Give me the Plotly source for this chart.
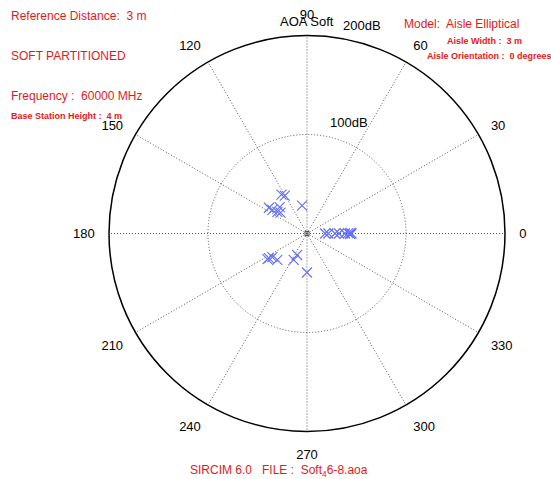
import plotly.graph_objects as go

# AOA data: received power (dB, radial) vs angle of arrival (degrees)
power_db = [47, 44.4, 28.7, 46.4, 42.4, 38.4, 37, 34,
            45.8, 42.4, 40.2, 47.7, 29.9, 23.9, 39.4,
            18.3, 21.6, 28.3, 32.3, 38.3, 41.6, 43.3, 45, 44]
angle_deg = [123.2, 120.3, 100, 145.9, 145.6, 136, 144, 141.8,
             213, 214.4, 221.7, 213, 243.3, 245.3, 270,
             0, 0, 0, 0, 0, 0.5, -0.5, 0, 0.8]
angle_ticks = list(range(0, 360, 30))
angle_ticklabels = [str(a) for a in angle_ticks]

W, H = 551, 479
RED = "rgb(230,25,25)"
FONT = "Liberation Sans, Arial, sans-serif"

fig = go.Figure()
fig.add_trace(go.Scatterpolar(
    r=power_db, theta=angle_deg, mode="markers",
    marker=dict(symbol="x-thin-open", size=10,
                line=dict(color="rgba(60,60,190,0.6)", width=1.1)),
    showlegend=False, hoverinfo="skip"))
fig.add_trace(go.Scatterpolar(
    r=[0], theta=[0], mode="markers",
    marker=dict(symbol="square-open", size=4, color="#555",
                line=dict(color="#555", width=1)),
    showlegend=False, hoverinfo="skip"))

cx, cy, R = 307, 233.5, 198
fig.update_layout(
    width=W, height=H,
    margin=dict(l=0, r=0, t=0, b=0),
    paper_bgcolor="white",
    font=dict(family=FONT, size=13, color="black"),
    polar=dict(
        domain=dict(x=[(cx - R) / W, (cx + R) / W],
                    y=[1 - (cy + R) / H, 1 - (cy - R) / H]),
        bgcolor="white",
        radialaxis=dict(range=[0, 200], tickvals=[100], showticklabels=False,
                        ticks="", showline=False, gridcolor="#555",
                        griddash="1px,2px", gridwidth=1),
        angularaxis=dict(direction="counterclockwise", rotation=0,
                         tickvals=angle_ticks, ticktext=angle_ticklabels,
                         ticks="outside", ticklen=11, tickcolor="rgba(0,0,0,0)",
                         showline=True, linecolor="black", linewidth=1.5,
                         gridcolor="#555", griddash="1px,2px", gridwidth=1,
                         tickfont=dict(size=13, color="black")),
    ),
)

def ann(text, x, y, size=12, color=RED, anchor="left"):
    fig.add_annotation(text=text, x=x / W, y=1 - y / H, xref="paper", yref="paper",
                       showarrow=False, xanchor=anchor, yanchor="middle",
                       font=dict(size=size, color=color, family=FONT))

ann("Reference Distance:  3 m", 9, 16)
ann("SOFT PARTITIONED", 9, 56)
ann("Frequency :  60000 MHz", 9, 96)
ann("<b>Base Station Height :  4 m</b>", 9, 116, size=9)
ann("Model:  Aisle Elliptical", 402, 24)
ann("<b>Aisle Width :  3 m</b>", 445, 41, size=9)
ann("<b>Aisle Orientation :  0 degrees</b>", 425, 56, size=9)
ann("AOA Soft", 307, 22, size=13, color="black", anchor="center")
ann("200dB", 362, 25, size=13, color="black", anchor="center")
ann("100dB", 349, 123, size=13, color="black", anchor="center")
ann("SIRCIM 6.0   FILE :  Soft<sub>4</sub>6-8.aoa", 188, 471, size=12)

fig.write_html("out.html", config={"displayModeBar": False},
               post_script="document.body.style.margin='0';document.body.style.overflow='hidden';")
